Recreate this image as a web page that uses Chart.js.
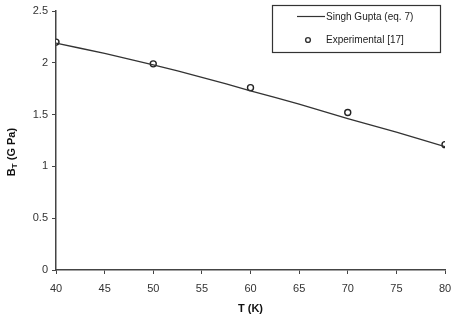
<!DOCTYPE html>
<html>
<head>
<meta charset="utf-8">
<script src="https://cdn.jsdelivr.net/npm/chart.js@4"></script>
<style>
  html, body { margin: 0; padding: 0; background: #fff; }
  #wrap { width: 451px; height: 320px; }
</style>
</head>
<body>
<div id="wrap"><canvas id="chart" width="451" height="320"></canvas></div>
<script>
// === DADOS ===
const temps = [40, 45, 50, 55, 60, 65, 70, 75, 80];
const singhGupta = [2.19, 2.09, 1.98, 1.86, 1.73, 1.60, 1.46, 1.33, 1.19];
const expTemps = [40, 50, 60, 70, 80];
const experimental = [2.20, 1.99, 1.76, 1.52, 1.21];
const xTicks = [40, 45, 50, 55, 60, 65, 70, 75, 80];
const yTicks = [0, 0.5, 1, 1.5, 2, 2.5];

const FONT = "'Liberation Sans', Arial, sans-serif";

// === LEGENDA E TÍTULO DO EIXO Y ===
const extras = {
  id: "extras",
  afterDraw(chart) {
    const ctx = chart.ctx;
    ctx.save();

    // legenda
    const lx = 272, ly = 5, lw = 168, lh = 47;
    ctx.fillStyle = "#fff";
    ctx.fillRect(lx, ly, lw, lh);
    ctx.strokeStyle = "#333";
    ctx.lineWidth = 1.2;
    ctx.strokeRect(lx + 0.5, ly + 0.5, lw, lh);

    ctx.font = "10px " + FONT;
    ctx.fillStyle = "#222";
    ctx.textBaseline = "middle";
    ctx.textAlign = "left";
    const ds = chart.data.datasets;

    ctx.strokeStyle = "#333";
    ctx.lineWidth = 1.2;
    ctx.beginPath();
    ctx.moveTo(297, 16.5);
    ctx.lineTo(325, 16.5);
    ctx.stroke();
    ctx.fillText(ds[0].label, 326, 17);

    ctx.lineWidth = 1.4;
    ctx.beginPath();
    ctx.arc(308, 40, 2.4, 0, Math.PI * 2);
    ctx.stroke();
    ctx.fillText(ds[1].label, 326, 40);

    // título eixo y com subscrito
    ctx.translate(12, 152);
    ctx.rotate(-Math.PI / 2);
    ctx.fillStyle = "#111";
    ctx.textAlign = "left";
    ctx.font = "bold 11px " + FONT;
    const w1 = ctx.measureText("B").width;
    const w3 = ctx.measureText(" (G Pa)").width;
    ctx.font = "bold 8px " + FONT;
    const w2 = ctx.measureText("T").width;
    let x = -(w1 + w2 + w3) / 2;
    ctx.font = "bold 11px " + FONT;
    ctx.fillText("B", x, 0);
    x += w1;
    ctx.font = "bold 8px " + FONT;
    ctx.fillText("T", x, 2.5);
    x += w2;
    ctx.font = "bold 11px " + FONT;
    ctx.fillText(" (G Pa)", x, 0);

    ctx.restore();
  },
};

new Chart(document.getElementById("chart"), {
  type: "scatter",
  data: {
    datasets: [
      {
        label: "Singh Gupta (eq. 7)",
        data: temps.map((t, i) => ({ x: t, y: singhGupta[i] })),
        showLine: true,
        borderColor: "#333",
        borderWidth: 1.3,
        pointRadius: 0,
        tension: 0.3,
      },
      {
        label: "Experimental [17]",
        data: expTemps.map((t, i) => ({ x: t, y: experimental[i] })),
        showLine: false,
        pointRadius: 3,
        pointBorderWidth: 1.4,
        pointBackgroundColor: "#fff",
        pointBorderColor: "#222",
      },
    ],
  },
  options: {
    responsive: false,
    animation: false,
    layout: { padding: { top: 11, right: 6, left: 0, bottom: 0 } },
    plugins: {
      legend: { display: false },
      tooltip: { enabled: false },
    },
    scales: {
      x: {
        type: "linear",
        min: 40,
        max: 80,
        afterBuildTicks: (s) => { s.ticks = xTicks.map((v) => ({ value: v })); },
        afterFit: (s) => {
          s.height = 50;
          s.paddingLeft = 0;
          s.paddingRight = 0;
        },
        border: { color: "#444", width: 1.5 },
        grid: { drawOnChartArea: false, tickLength: 4, color: "#444" },
        ticks: { color: "#333", font: { size: 11, family: FONT }, padding: 8, maxRotation: 0 },
        title: {
          display: true,
          text: "T (K)",
          color: "#111",
          font: { size: 11, weight: "bold", family: FONT },
          padding: { top: 6, bottom: 4 },
        },
      },
      y: {
        min: 0,
        max: 2.5,
        afterBuildTicks: (s) => { s.ticks = yTicks.map((v) => ({ value: v })); },
        afterFit: (s) => { s.width = 56; },
        border: { color: "#444", width: 1.5 },
        grid: { drawOnChartArea: false, tickLength: 4, color: "#444" },
        ticks: {
          color: "#333",
          font: { size: 11, family: FONT },
          padding: 4,
          callback: (v) => String(v),
        },
      },
    },
  },
  plugins: [extras],
});
</script>
</body>
</html>
